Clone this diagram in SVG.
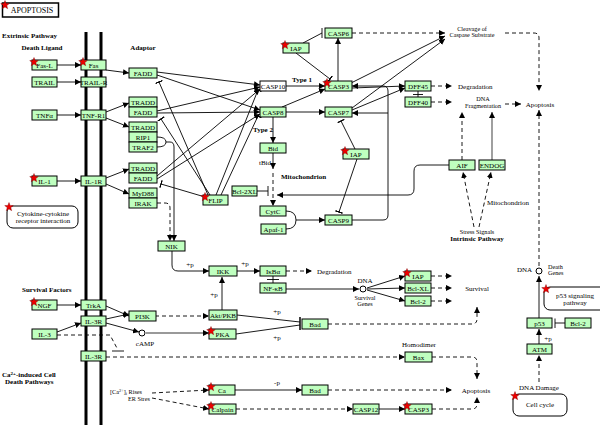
<svg xmlns="http://www.w3.org/2000/svg" xmlns:xlink="http://www.w3.org/1999/xlink" width="600" height="425" viewBox="0 0 600 425">
<style>
.bx{fill:#bfffbf;stroke:#000;stroke-width:1}
.wb{fill:#fff;stroke:#000;stroke-width:1}
.t{font-family:"Liberation Serif",serif;font-size:7px;text-anchor:middle;fill:#000}
.l{font-family:"Liberation Serif",serif;font-size:7px;fill:#000}
.s{font-size:6.2px}
.b{font-weight:bold}
.c{fill:none;stroke:#000;stroke-width:0.9}
.d{fill:none;stroke:#000;stroke-width:0.9;stroke-dasharray:4,3}
.g{fill:none;stroke:#777;stroke-width:1.4}
.mem{stroke:#000;stroke-width:3}
.st{fill:#e00;stroke:#700;stroke-width:0.4}
</style>
<defs>
<marker id="a" viewBox="0 0 6 6" refX="6" refY="3" markerWidth="6" markerHeight="6" markerUnits="userSpaceOnUse" orient="auto"><path d="M0,0L6,3L0,6z" fill="#000"/></marker>
<marker id="i" viewBox="0 0 2 10" refX="1" refY="5" markerWidth="1.5" markerHeight="10" markerUnits="userSpaceOnUse" orient="auto"><rect x="0" y="0" width="2" height="10" fill="#000"/></marker>
<symbol id="star" viewBox="-5 -5 10 10" width="10" height="10" overflow="visible"><polygon class="st" points="0,-4.5 1.12,-1.54 4.28,-1.39 1.81,0.59 2.65,3.64 0,1.9 -2.65,3.64 -1.81,0.59 -4.28,-1.39 -1.12,-1.54"/></symbol>
</defs>
<rect width="600" height="425" fill="#fff"/>
<!-- membrane -->
<line class="mem" x1="86" y1="32" x2="86" y2="425"/>
<line class="mem" x1="101" y1="32" x2="101" y2="425"/>
<!-- title -->
<g id="title"><rect x="2.5" y="3" width="56" height="14" fill="#fff" stroke="#000" stroke-width="1.5"/><text class="t" x="32" y="13" style="font-size:8px">APOPTOSIS</text></g>
<!-- labels -->
<g id="labels">
<text class="l b" x="2" y="38">Extrinsic Pathway</text>
<text class="t b" x="42" y="50">Death Ligand</text>
<text class="t b" x="143" y="50">Adaptor</text>
<text class="t b" x="302" y="82">Type 1</text>
<text class="t b" x="263" y="132">Type 2</text>
<text class="t" x="265" y="165">tBid</text>
<text class="l b" x="281" y="179">Mitochondrion</text>
<text class="t s" x="472" y="30.5">Cleavage of</text>
<text class="t s" x="472" y="37">Caspase Substrate</text>
<text class="l" x="458" y="89">Degradation</text>
<text class="t s" x="483" y="101">DNA</text>
<text class="t s" x="483" y="107.5">Fragmentation</text>
<text class="t" x="540" y="107">Apoptosis</text>
<text class="l" x="487" y="205">Mitochondrion</text>
<text class="t s" x="477" y="234">Stress Signals</text>
<text class="t b" x="477" y="241">Intrinsic Pathway</text>
<text class="l" x="317" y="274">Degradation</text>
<text class="t" x="365" y="283">DNA</text>
<text class="t s" x="365" y="299.5">Survival</text>
<text class="t s" x="365" y="306">Genes</text>
<text class="t" x="245" y="266">+p</text>
<text class="t" x="190" y="267">+p</text>
<text class="t" x="214" y="297">+p</text>
<text class="t" x="277" y="314">+p</text>
<text class="t" x="277" y="340">+p</text>
<text class="t" x="277" y="385">-p</text>
<text class="t" x="548" y="341">+p</text>
<text class="t" x="477" y="291">Survival</text>
<text class="l" x="517" y="272">DNA</text>
<text class="l s" x="548" y="268.5">Death</text>
<text class="l s" x="548" y="275">Genes</text>
<text class="t" x="145" y="346">cAMP</text>
<text class="l" x="402" y="347">Homodimer</text>
<text class="t" x="476" y="393">Apoptosis</text>
<text class="t" x="539" y="390">DNA Damage</text>
<text class="l b" x="22" y="292">Survival Factors</text>
<text class="l b" x="2" y="377">Ca<tspan dy="-2" style="font-size:5px">2+</tspan><tspan dy="2">-induced Cell</tspan></text>
<text class="l b" x="5" y="384">Death Pathways</text>
<text class="l s" x="110" y="393.5">[Ca<tspan dy="-2" style="font-size:4.5px">2+</tspan><tspan dy="2">]</tspan><tspan dy="1" style="font-size:4.5px">i</tspan><tspan dy="-1"> Rises</tspan></text>
<text class="l s" x="128" y="400.5">ER Stres</text>
</g>
<!-- connectors -->
<g id="connectors">
<path class="c" d="M57,65H81" marker-end="url(#a)"/>
<path class="c" d="M57,82H81" marker-end="url(#a)"/>
<path class="c" d="M57,115H81" marker-end="url(#a)"/>
<path class="c" d="M57,181H81" marker-end="url(#a)"/>
<path class="c" d="M57,305H81" marker-end="url(#a)"/>
<path class="c" d="M57,332L81,323" marker-end="url(#a)"/>
<path class="c" d="M106,70L129,73" marker-end="url(#a)"/>
<path class="c" d="M106,112L129,103" marker-end="url(#a)"/>
<path class="c" d="M106,118L129,127" marker-end="url(#a)"/>
<path class="c" d="M106,178L129,169" marker-end="url(#a)"/>
<path class="c" d="M106,184L129,194" marker-end="url(#a)"/>
<path class="c" d="M106,306L129,316" marker-end="url(#a)"/>
<path class="c" d="M106,319L129,314" marker-end="url(#a)"/>
<path class="c" d="M106,323L139,332" marker-end="url(#a)"/>
<path class="d" d="M57,335H110L118,350"/>
<path class="c" d="M112,351H124"/>
<path class="d" d="M106,357H405" marker-end="url(#a)"/>
<path class="d" d="M155,316H209" marker-end="url(#a)"/>
<path class="g" d="M146,333H209" marker-end="url(#a)"/>
<path class="c" d="M237,315L300,322"/>
<path class="c" d="M236,334L300,325"/>
<path class="c" d="M300,317V330" style="stroke-width:1.5"/>
<path class="c" d="M222,310V277" marker-end="url(#a)"/>
<path class="c" d="M172,251V265Q172,271 178,271H209" marker-end="url(#a)"/>
<path class="d" d="M157,203H165Q170,203 170,208V241" marker-end="url(#a)"/>
<path class="c" d="M157,137Q166,137 166,142Q166,147 157,147M166,142H170Q174,142 174,147V241" marker-end="url(#a)"/>
<path class="c" d="M237,271H260" marker-end="url(#a)"/>
<path class="d" d="M286,271H312" marker-end="url(#a)"/>
<path class="c" d="M273,276V283M267,279.5H279"/>
<path class="c" d="M286,289H359" marker-end="url(#a)"/>
<path class="c" d="M367,288L405,276" marker-end="url(#a)"/>
<path class="c" d="M367,289L405,288" marker-end="url(#a)"/>
<path class="c" d="M367,290L405,301" marker-end="url(#a)"/>
<path class="d" d="M431,276H452" marker-end="url(#a)"/>
<path class="d" d="M431,288H452" marker-end="url(#a)"/>
<path class="d" d="M431,301H452" marker-end="url(#a)"/>
<path class="d" d="M328,324H472Q477,324 477,319V307" marker-end="url(#a)"/>
<path class="d" d="M432,357H472Q477,357 477,362V379" marker-end="url(#a)"/>
<path class="d" d="M328,390H452" marker-end="url(#a)"/>
<path class="d" d="M432,409H472Q477,409 477,404V397" marker-end="url(#a)"/>
<path class="c" d="M235,390H302" marker-end="url(#a)"/>
<path class="d" d="M152,393L209,390" marker-end="url(#a)"/>
<path class="d" d="M152,398L209,409" marker-end="url(#a)"/>
<path class="d" d="M236,409H353" marker-end="url(#a)"/>
<path class="c" d="M379,409H405" marker-end="url(#a)"/>
<path class="c" d="M539,344V329" marker-end="url(#a)"/>
<path class="c" d="M565,323H555M555,318.5V328"/>
<path class="c" d="M539,318V276" marker-end="url(#a)"/>
<path class="d" d="M539,382V355" marker-end="url(#a)"/>
<path class="d" d="M539,266V110" marker-end="url(#a)"/>
<path class="d" d="M505,33H534Q539,33 539,38V91" marker-end="url(#a)"/>
<path class="d" d="M505,104H521" marker-end="url(#a)"/>
<path class="d" d="M431,86H452" marker-end="url(#a)"/>
<path class="d" d="M431,102H452" marker-end="url(#a)"/>
<path class="c" d="M418,91V97M413,94.5H423"/>
<path class="d" d="M462,160V112" marker-end="url(#a)"/>
<path class="g" d="M492,160V112" marker-end="url(#a)"/>
<path class="d" d="M474,227L463,172" marker-end="url(#a)"/>
<path class="d" d="M479,227L491,172" marker-end="url(#a)"/>
<path class="c" d="M449,165H420Q414,165 414,171V189Q414,195 408,195H277" marker-end="url(#a)"/>
<path class="c" d="M273,153V169" marker-end="url(#a)"/>
<path class="d" d="M273,173V206" marker-end="url(#a)"/>
<path class="c" d="M257,191H268M268,186V196"/>
<path class="c" d="M286,211Q296,211 296,220Q296,229 286,229M296,220H325" marker-end="url(#a)"/>
<path class="c" d="M352,220H383Q388,220 388,215V91Q388,86 383,86H352" marker-end="url(#a)"/>
<path class="c" d="M388,113H352" marker-end="url(#a)"/>
<path class="c" d="M355,149L341,121" marker-end="url(#i)"/>
<path class="c" d="M357,159L339,212" marker-end="url(#i)"/>
<path class="c" d="M303,43L322,33M322,28V38"/>
<path class="c" d="M296,53L330,79" marker-end="url(#i)"/>
<path class="c" d="M338,81V38" marker-end="url(#a)"/>
<path class="d" d="M352,33H445" marker-end="url(#a)"/>
<path class="c" d="M351,83L445,36" marker-end="url(#a)"/>
<path class="c" d="M352,108L445,39" marker-end="url(#a)"/>
<path class="c" d="M352,88L405,86" marker-end="url(#a)"/>
<path class="c" d="M352,110L405,88" marker-end="url(#a)"/>
<path class="c" d="M157,72L260,85" marker-end="url(#a)"/>
<path class="c" d="M157,75L260,110" marker-end="url(#a)"/>
<path class="c" d="M157,111L260,87" marker-end="url(#a)"/>
<path class="c" d="M157,113L260,112" marker-end="url(#a)"/>
<path class="c" d="M157,176L260,89" marker-end="url(#a)"/>
<path class="c" d="M157,179L260,114" marker-end="url(#a)"/>
<path class="c" d="M208,195L159,82" marker-end="url(#i)"/>
<path class="c" d="M210,195L161,119" marker-end="url(#i)"/>
<path class="c" d="M205,197L161,184" marker-end="url(#i)"/>
<path class="c" d="M216,195L258,90" marker-end="url(#i)"/>
<path class="c" d="M221,195L258,116" marker-end="url(#i)"/>
<path class="c" d="M286,86H325" marker-end="url(#a)"/>
<path class="c" d="M282,107L325,89" marker-end="url(#a)"/>
<path class="c" d="M286,112H325" marker-end="url(#a)"/>
<path class="c" d="M273,117V143" marker-end="url(#a)"/>
<circle cx="142" cy="333" r="3" fill="#fff" stroke="#000"/>
<circle cx="363" cy="289" r="3" fill="#fff" stroke="#000"/>
<circle cx="539" cy="271" r="3" fill="#fff" stroke="#000"/>
</g>
<!-- nodes -->
<g id="FasL"><rect class="bx" x="32" y="60" width="25" height="10"/><text class="t" x="44.5" y="67.5">Fas-L</text></g>
<g id="Fas"><rect class="bx" x="81" y="60" width="25" height="10"/><text class="t" x="93.5" y="67.5">Fas</text></g>
<g id="TRAIL"><rect class="bx" x="32" y="77" width="25" height="10"/><text class="t" x="44.5" y="84.5">TRAIL</text></g>
<g id="TRAILR"><rect class="bx" x="81" y="77" width="25" height="10"/><text class="t" x="93.5" y="84.5">TRAIL-R</text></g>
<g id="FADD1"><rect class="bx" x="129" y="68" width="28" height="10"/><text class="t" x="143" y="75.5">FADD</text></g>
<g id="TNFa"><rect class="bx" x="32" y="110" width="25" height="10"/><text class="t" x="44.5" y="117.5">TNFα</text></g>
<g id="TNFR1"><rect class="bx" x="81" y="110" width="25" height="10"/><text class="t" x="93.5" y="117.5">TNF-R1</text></g>
<g id="TRADD1"><rect class="bx" x="129" y="97" width="28" height="10"/><text class="t" x="143" y="104.5">TRADD</text></g>
<g id="FADD2"><rect class="bx" x="129" y="107" width="28" height="10"/><text class="t" x="143" y="114.5">FADD</text></g>
<g id="TRADD2"><rect class="bx" x="129" y="122" width="28" height="10"/><text class="t" x="143" y="129.5">TRADD</text></g>
<g id="RIP1"><rect class="bx" x="129" y="132" width="28" height="10"/><text class="t" x="143" y="139.5">RIP1</text></g>
<g id="TRAF2"><rect class="bx" x="129" y="142" width="28" height="10"/><text class="t" x="143" y="149.5">TRAF2</text></g>
<g id="IL1"><rect class="bx" x="32" y="176" width="25" height="10"/><text class="t" x="44.5" y="183.5">IL-1</text></g>
<g id="IL1R"><rect class="bx" x="81" y="176" width="25" height="10"/><text class="t" x="93.5" y="183.5">IL-1R</text></g>
<g id="TRADD3"><rect class="bx" x="129" y="163" width="28" height="10"/><text class="t" x="143" y="170.5">TRADD</text></g>
<g id="FADD3"><rect class="bx" x="129" y="173" width="28" height="10"/><text class="t" x="143" y="180.5">FADD</text></g>
<g id="MyD88"><rect class="bx" x="129" y="188" width="28" height="10"/><text class="t" x="143" y="195.5">MyD88</text></g>
<g id="IRAK"><rect class="bx" x="129" y="198" width="28" height="10"/><text class="t" x="143" y="205.5">IRAK</text></g>
<g id="Cytokine"><rect x="7" y="206" width="71" height="22" rx="6" fill="#fff" stroke="#000"/><text class="t" x="43" y="216">Cytokine-cytokine</text><text class="t" x="43" y="223">receptor interaction</text></g>
<g id="NIK"><rect class="bx" x="158" y="241" width="27" height="10"/><text class="t" x="171.5" y="248.5">NIK</text></g>
<g id="NGF"><rect class="bx" x="32" y="300" width="25" height="10"/><text class="t" x="44.5" y="307.5">NGF</text></g>
<g id="TrkA"><rect class="bx" x="81" y="300" width="25" height="10"/><text class="t" x="93.5" y="307.5">TrkA</text></g>
<g id="PI3K"><rect class="bx" x="129" y="311" width="27" height="10"/><text class="t" x="142.5" y="318.5">PI3K</text></g>
<g id="IL3R1"><rect class="bx" x="81" y="316" width="25" height="10"/><text class="t" x="93.5" y="323.5">IL-3R</text></g>
<g id="IL3"><rect class="bx" x="32" y="329" width="25" height="10"/><text class="t" x="44.5" y="336.5">IL-3</text></g>
<g id="IL3R2"><rect class="bx" x="81" y="351" width="25" height="10"/><text class="t" x="93.5" y="358.5">IL-3R</text></g>
<g id="CASP6"><rect class="bx" x="325" y="28" width="27" height="10"/><text class="t" x="338.5" y="35.5">CASP6</text></g>
<g id="IAP1"><rect class="bx" x="283" y="43" width="26" height="10"/><text class="t" x="296" y="50.5">IAP</text></g>
<g id="CASP10"><rect class="wb" x="260" y="81" width="26" height="10"/><text class="t" x="273" y="88.5">CASP10</text></g>
<g id="CASP3a"><rect class="bx" x="325" y="81" width="27" height="10"/><text class="t" x="338.5" y="88.5">CASP3</text></g>
<g id="CASP8"><rect class="bx" x="260" y="107" width="26" height="10"/><text class="t" x="273" y="114.5">CASP8</text></g>
<g id="CASP7"><rect class="bx" x="325" y="107" width="27" height="10"/><text class="t" x="338.5" y="114.5">CASP7</text></g>
<g id="Bid"><rect class="bx" x="260" y="143" width="26" height="10"/><text class="t" x="273" y="150.5">Bid</text></g>
<g id="IAP2"><rect class="bx" x="343" y="149" width="26" height="10"/><text class="t" x="356" y="156.5">IAP</text></g>
<g id="Bcl2XL"><rect class="bx" x="232" y="186" width="25" height="10"/><text class="t" x="244.5" y="193.5">Bcl-2XL</text></g>
<g id="FLIP"><rect class="bx" x="203" y="195" width="25" height="10"/><text class="t" x="215.5" y="202.5">FLIP</text></g>
<g id="CytC"><rect class="bx" x="260" y="206" width="26" height="10"/><text class="t" x="273" y="213.5">CytC</text></g>
<g id="Apaf1"><rect class="bx" x="261" y="224" width="25" height="10"/><text class="t" x="273.5" y="231.5">Apaf-1</text></g>
<g id="CASP9"><rect class="bx" x="325" y="215" width="27" height="10"/><text class="t" x="338.5" y="222.5">CASP9</text></g>
<g id="AIF"><rect class="bx" x="449" y="160" width="26" height="10"/><text class="t" x="462" y="167.5">AIF</text></g>
<g id="ENDOG"><rect class="bx" x="479" y="160" width="26" height="10"/><text class="t" x="492" y="167.5">ENDOG</text></g>
<g id="DFF45"><rect class="bx" x="405" y="81" width="26" height="10"/><text class="t" x="418" y="88.5">DFF45</text></g>
<g id="DFF40"><rect class="bx" x="405" y="97" width="26" height="10"/><text class="t" x="418" y="104.5">DFF40</text></g>
<g id="IKK"><rect class="bx" x="209" y="266" width="28" height="10"/><text class="t" x="223" y="273.5">IKK</text></g>
<g id="IkBa"><rect class="bx" x="260" y="266" width="26" height="10"/><text class="t" x="273" y="273.5">IκBα</text></g>
<g id="NFkB"><rect class="bx" x="260" y="283" width="26" height="10"/><text class="t" x="273" y="290.5">NF-κB</text></g>
<g id="IAP3"><rect class="bx" x="405" y="271" width="26" height="10"/><text class="t" x="418" y="278.5">IAP</text></g>
<g id="BclXL"><rect class="bx" x="405" y="283" width="26" height="10"/><text class="t" x="418" y="290.5">Bcl-XL</text></g>
<g id="Bcl2a"><rect class="bx" x="405" y="296" width="26" height="10"/><text class="t" x="418" y="303.5">Bcl-2</text></g>
<g id="p53path"><rect x="544" y="287" width="62" height="23" rx="6" fill="#fff" stroke="#000"/><text class="t" x="575" y="298">p53 signaling</text><text class="t" x="575" y="305">pathway</text></g>
<g id="AktPKB"><rect class="bx" x="209" y="310" width="28" height="10"/><text class="t" x="223" y="317.5">Akt/PKB</text></g>
<g id="PKA"><rect class="bx" x="209" y="329" width="27" height="10"/><text class="t" x="222.5" y="336.5">PKA</text></g>
<g id="Bad1"><rect class="bx" x="302" y="319" width="26" height="10"/><text class="t" x="315" y="326.5">Bad</text></g>
<g id="Bax"><rect class="bx" x="405" y="352" width="27" height="10"/><text class="t" x="418.5" y="359.5">Bax</text></g>
<g id="Ca"><rect class="bx" x="209" y="385" width="26" height="10"/><text class="t" x="222" y="392.5">Ca</text></g>
<g id="Bad2"><rect class="bx" x="302" y="385" width="26" height="10"/><text class="t" x="315" y="392.5">Bad</text></g>
<g id="Calpain"><rect class="bx" x="209" y="404" width="27" height="10"/><text class="t" x="222.5" y="411.5">Calpain</text></g>
<g id="CASP12"><rect class="bx" x="353" y="404" width="26" height="10"/><text class="t" x="366" y="411.5">CASP12</text></g>
<g id="CASP3b"><rect class="bx" x="405" y="404" width="27" height="10"/><text class="t" x="418.5" y="411.5">CASP3</text></g>
<g id="p53"><rect class="bx" x="527" y="318" width="25" height="10"/><text class="t" x="539.5" y="325.5">p53</text></g>
<g id="Bcl2b"><rect class="bx" x="565" y="318" width="26" height="10"/><text class="t" x="578" y="325.5">Bcl-2</text></g>
<g id="ATM"><rect class="bx" x="527" y="344" width="25" height="10"/><text class="t" x="539.5" y="351.5">ATM</text></g>
<g id="CellCycle"><rect x="513" y="394" width="54" height="22" rx="6" fill="#fff" stroke="#000"/><text class="t" x="540" y="407">Cell cycle</text></g>
<!-- stars -->
<g id="stars">
<use href="#star" x="0" y="0"/>
<use href="#star" x="29" y="57"/>
<use href="#star" x="78" y="57"/>
<use href="#star" x="29" y="173"/>
<use href="#star" x="29" y="297"/>
<use href="#star" x="4" y="202"/>
<use href="#star" x="280" y="40"/>
<use href="#star" x="322" y="78"/>
<use href="#star" x="340" y="146"/>
<use href="#star" x="200" y="192"/>
<use href="#star" x="402" y="268"/>
<use href="#star" x="541" y="284"/>
<use href="#star" x="206" y="326"/>
<use href="#star" x="206" y="382"/>
<use href="#star" x="206" y="401"/>
<use href="#star" x="402" y="401"/>
<use href="#star" x="510" y="391"/>
</g>
</svg>
